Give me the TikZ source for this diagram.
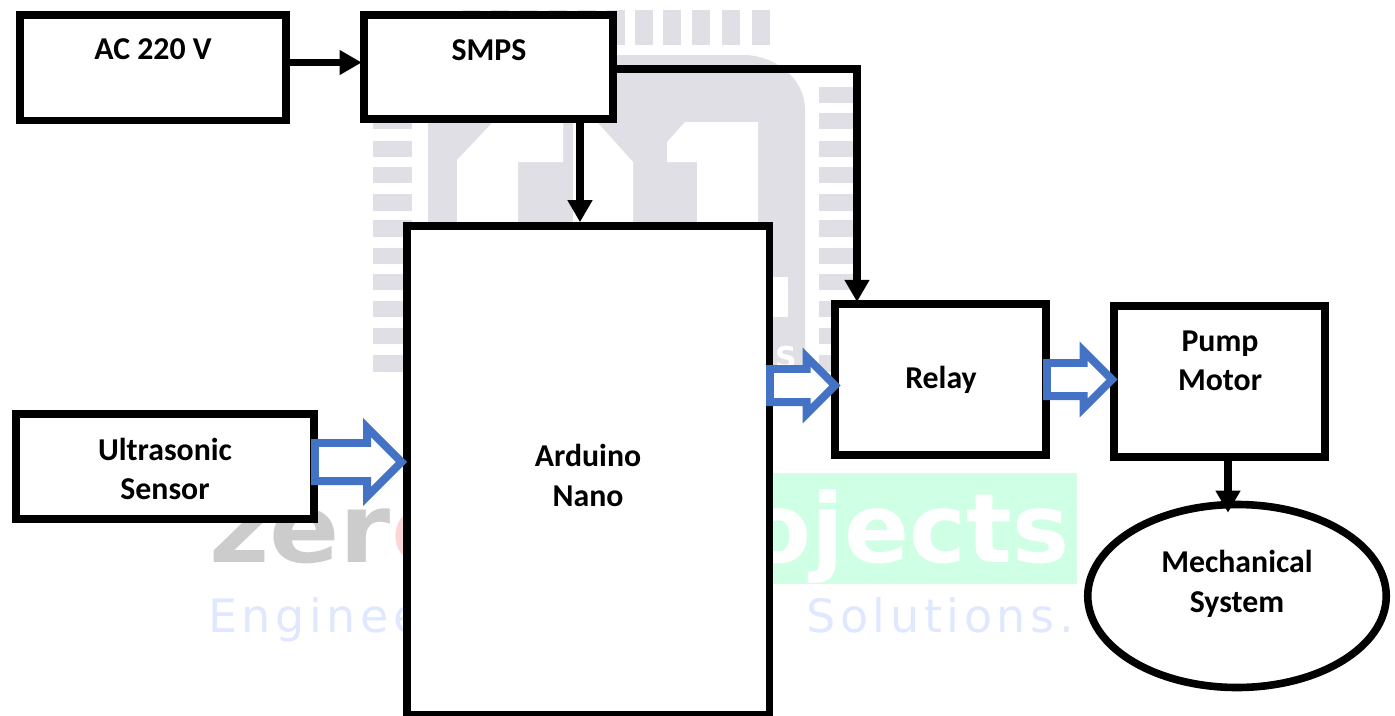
\documentclass[tikz,border=0pt]{standalone}
\usepackage{fontspec}
\setmainfont{Carlito}
\newfontfamily\wmbold{DejaVu Sans}
\newfontfamily\wmthin[LetterSpace=10]{DejaVu Sans}
\usetikzlibrary{arrows.meta,calc,shapes.geometric,shapes.arrows}
\definecolor{wmgrey}{HTML}{E0DFE5}
\definecolor{wmgreen}{HTML}{CFFFE5}
\definecolor{wmzero}{HTML}{CCCCCC}
\definecolor{wmpink}{HTML}{FFD5D5}
\definecolor{wmblue}{HTML}{E0E8FF}
\definecolor{arrowblue}{HTML}{4472C4}
\tikzset{
  blockbox/.style={draw=black,fill=white,line width=7.6pt,inner sep=0pt,rectangle},
  roundbox/.style={draw=black,fill=white,line width=7.6pt,inner sep=0pt,ellipse},
  label text/.style={font=\fontsize{31.8}{40}\selectfont\bfseries,align=center,inner sep=0pt,
     text height=22pt,text depth=7pt},
  link/.style={draw=black,line width=7.6pt,-{Triangle[length=22pt,width=23.5pt]}},
  hollow/.style={single arrow,draw=arrowblue,fill=white,line width=7.8pt,inner xsep=0pt,outer sep=0pt,
     text height=0pt,text depth=0pt,anchor=tail},
  hollow big/.style={hollow,inner ysep=15.2pt,
     minimum height=86.5pt,minimum width=61pt,single arrow head extend=15.3pt},
  hollow small/.style={hollow,inner ysep=12.7pt,
     minimum height=65pt,minimum width=49pt,single arrow head extend=11.8pt},
  pad/.style={fill=wmgrey,draw=none},
}
\begin{document}
\begin{tikzpicture}[x=1pt,y=-1pt]
\useasboundingbox (0,0) rectangle (1395,715);
% --- watermark ---
\foreach \py/\pb in {100/129,141/157,167/183,194/211,220/237,248/264,274/290,301/317,328/344,355/372}
  \fill[pad] (373,\py) rectangle (412,\pb);
\foreach \py/\pb in {87/103,113/129,141/157,167/183,194/211,220/237,248/264,274/290,301/317,328/344,355/372}
  \fill[pad] (819,\py) rectangle (855,\pb);
\foreach \px in {462,491,520,549,578,607,635,663,692,722,752}
  \fill[pad] (\px,10) rectangle ++(17.5,35);
\fill[pad] (428,60) -- (428,372) -- (805,372) -- (805,110)
  .. controls (805,78) and (775,55) .. (743,55) -- (428,55) -- cycle;
\fill[white] (457,160) -- (493,122) -- (493,100) -- (563,100) -- (563,162) -- (518,162) -- (518,235) -- (457,235) -- cycle;
\fill[white] (573,100) -- (597,122) -- (633,162) -- (633,235) -- (573,235) -- cycle;
\fill[white] (667,142) -- (685,122) -- (758,122) -- (758,235) -- (697,235) -- (697,162) -- (667,162) -- cycle;
\fill[white] (760,277) rectangle (788,317);
\node[anchor=base west,inner sep=0pt,text=white,font=\fontsize{30}{30}\selectfont\wmbold\bfseries] (wmS) at (775,368) {S};
\fill[wmgreen] (770,473) rectangle (1077,584);
\node[anchor=base east,inner sep=0pt,text=white,font=\fontsize{96}{96}\selectfont\wmbold\bfseries] (wmP) at (1070,562) {ojects};
\node[anchor=base west,inner sep=0pt,text=wmzero,xscale=1.08,font=\fontsize{96}{96}\selectfont\wmbold\bfseries] (wmZ) at (209,562) {zer\textcolor{wmpink}{o}};
\node[anchor=base west,inner sep=0pt,text=wmblue,font=\fontsize{46}{46}\selectfont\wmthin] (wmE) at (208,632) {Enginee};
\node[anchor=base east,inner sep=0pt,text=wmblue,font=\fontsize{46}{46}\selectfont\wmthin] (wmL) at (1074,632) {Solutions.};
% --- boxes ---
\node[blockbox,minimum width=266pt,minimum height=105.5pt] (ac) at (153,67.75) {};
\node[blockbox,minimum width=249pt,minimum height=104.5pt] (smps) at (488.5,67) {};
\node[blockbox,minimum width=362.5pt,minimum height=488.75pt] (nano) at (588.25,470.4) {};
\node[blockbox,minimum width=211.5pt,minimum height=151.5pt] (relay) at (940.5,379.5) {};
\node[blockbox,minimum width=211.5pt,minimum height=151.5pt] (pump) at (1219.5,381.5) {};
\node[blockbox,minimum width=298.5pt,minimum height=105.5pt] (sensor) at (165,466.5) {};
\node[roundbox,minimum width=298.5pt,minimum height=183pt] (mech) at (1237,596) {};
% --- labels ---
\node[label text] (tac) at (153,51.5) {AC 220 V};
\node[label text] (tsmps) at (489,52.5) {SMPS};
\node[label text] (tnano) at (588,498.5) {Arduino\\Nano};
\node[label text] (trelay) at (941,380.5) {Relay};
\node[label text] (tpump) at (1220,382.75) {Pump\\[-1.5pt]Motor};
\node[label text] (tsensor) at (165,491.75) {Ultrasonic\\[-1.5pt]Sensor};
\node[label text] (tmech) at (1237,604.5) {Mechanical\\System};
% --- connectors ---
\draw[link] ([yshift=5.25pt]ac.east) -- ([yshift=4.5pt,xshift=1.5pt]smps.west);
\draw[link] ([xshift=91.5pt]smps.south) -- ([xshift=-8.25pt]nano.north);
\draw[link] ([yshift=-2pt]smps.east) -| ([xshift=-83.5pt,yshift=-2pt]relay.north);
\draw[link] ([xshift=8.5pt]pump.south) -- ([xshift=-9pt,yshift=-12pt]mech.north);
% --- hollow arrows ---
\node[hollow big] (a1) at (315,462) {};
\node[hollow small] (a2) at (770,385.5) {};
\node[hollow small] (a3) at (1047,379.5) {};
\end{tikzpicture}
\end{document}
